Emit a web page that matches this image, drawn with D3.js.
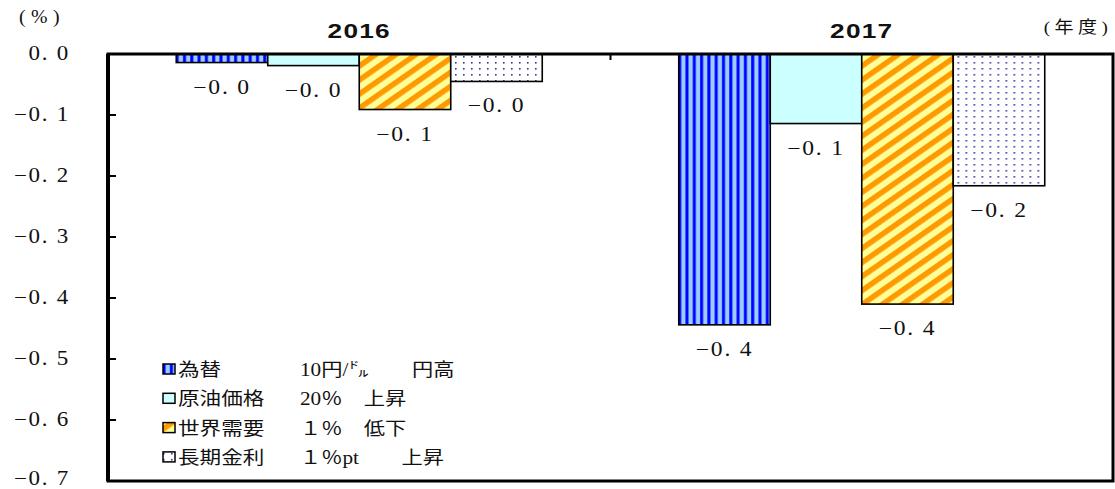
<!doctype html>
<html>
<head>
<meta charset="utf-8">
<script src="https://cdnjs.cloudflare.com/ajax/libs/d3/7.8.5/d3.min.js"></script>
<style>
    body{
        margin: 0;
        background-color: white;
    }
    text{
        fill: #111;
    }
</style>
</head>
<body>
<div id="container"></div>
<script>
    // data
    var years = ["2016", "2017"];
    var seriesNames = ["為替", "原油価格", "世界需要", "長期金利"];
    var seriesNotes = ["10円/㌦　　円高", "20％　上昇", "１％　低下", "１％pt　　上昇"];
    var fxValues = [-0.014, -0.444];
    var oilValues = [-0.019, -0.114];
    var demandValues = [-0.091, -0.410];
    var rateValues = [-0.045, -0.216];
    var yTicks = [0, -0.1, -0.2, -0.3, -0.4, -0.5, -0.6, -0.7];

    var seriesValues = [fxValues, oilValues, demandValues, rateValues];
    var fills = ["url(#pat0)", "#ccffff", "url(#pat2)", "url(#pat3)"];

    const width = 1115;
    const height = 489;
    const plotLeft = 108, plotRight = 1113, plotTop = 54, plotBottom = 481;

    var serif = "'Liberation Serif', 'DejaVu Serif', 'Noto Sans CJK JP', serif";
    var cjk = "'Liberation Serif', 'Noto Sans CJK JP', sans-serif";

    // the original picture is stretched sideways, so the texts are too
    function stretch(sel, sx){
        sel.each(function(){
            var t = d3.select(this);
            var x = +t.attr('x') || 0, y = +t.attr('y') || 0;
            t.attr('x', 0).attr('y', 0)
             .attr('transform', 'translate(' + x + ',' + y + ') scale(' + sx + ',1)');
        });
    }

    function fmt(v){
        var s = Math.abs(v).toFixed(1).replace('.', '. ');
        return (v < 0 ? '−' : '') + s;
    }

    var svg = d3.select('#container').append('svg')
        .attr('width', width)
        .attr('height', height);

    // patterns
    var defs = svg.append('defs');
    var p0 = defs.append('pattern').attr('id', 'pat0')
        .attr('patternUnits', 'userSpaceOnUse')
        .attr('width', 7.3).attr('height', 10);
    p0.append('rect').attr('width', 7.3).attr('height', 10).attr('fill', '#99ccff');
    p0.append('rect').attr('x', 2).attr('width', 3).attr('height', 10).attr('fill', '#0000ff');

    var p2 = defs.append('pattern').attr('id', 'pat2')
        .attr('patternUnits', 'userSpaceOnUse')
        .attr('width', 20).attr('height', 11.5)
        .attr('patternTransform', 'rotate(-35)');
    p2.append('rect').attr('width', 20).attr('height', 11.5).attr('fill', '#ffff99');
    p2.append('rect').attr('width', 20).attr('height', 5.5).attr('fill', '#ff9900');

    var p3 = defs.append('pattern').attr('id', 'pat3')
        .attr('patternUnits', 'userSpaceOnUse')
        .attr('width', 8).attr('height', 6);
    p3.append('rect').attr('width', 8).attr('height', 6).attr('fill', 'white');
    p3.append('rect').attr('x', 3).attr('y', 2).attr('width', 1.6).attr('height', 1.6).attr('fill', '#3333aa');

    // scales
    var x0 = d3.scaleBand()
        .domain(years)
        .range([plotLeft, plotRight]);

    var x1 = d3.scaleBand()
        .domain(d3.range(seriesNames.length))
        .range([0, x0.bandwidth()])
        .paddingInner(0)
        .paddingOuter(0.746);

    var y = d3.scaleLinear()
        .domain([-0.7, 0])
        .range([plotBottom, plotTop]);

    var data = years.map(function(yr, j){
        return {year: yr, values: seriesValues.map(function(arr, i){
            return {key: i, value: arr[j]};
        })};
    });

    // bars
    var groups = svg.append('g').selectAll('g')
        .data(data)
        .enter()
        .append('g')
        .attr('transform', d => 'translate(' + x0(d.year) + ',0)');

    groups.selectAll('rect')
        .data(d => d.values)
        .enter()
        .append('rect')
        .attr('x', d => x1(d.key))
        .attr('y', y(0))
        .attr('width', x1.bandwidth())
        .attr('height', d => y(d.value) - y(0))
        .attr('fill', d => fills[d.key])
        .attr('stroke', '#000')
        .attr('stroke-width', 1.6);

    groups.selectAll('text')
        .data(d => d.values)
        .enter()
        .append('text')
        .attr('x', d => x1(d.key) + x1.bandwidth() / 2)
        .attr('y', d => y(d.value) + 31)
        .attr('text-anchor', 'middle')
        .style('font-family', serif)
        .style('font-size', '20px')
        .style('letter-spacing', '1.5px')
        .text(d => fmt(d.value))
        .call(stretch, 1.18);

    // frame
    svg.append('rect')
        .attr('x', plotLeft)
        .attr('y', plotTop)
        .attr('width', plotRight - plotLeft)
        .attr('height', plotBottom - plotTop)
        .attr('fill', 'none')
        .attr('stroke', '#000')
        .attr('stroke-width', 3);

    svg.append('line')
        .attr('x1', plotLeft).attr('x2', plotLeft)
        .attr('y1', plotTop).attr('y2', plotBottom)
        .attr('stroke', '#000')
        .attr('stroke-width', 4);

    // y ticks
    svg.append('g').selectAll('line')
        .data(yTicks.slice(1, -1))
        .enter()
        .append('line')
        .attr('x1', plotLeft).attr('x2', plotLeft + 8)
        .attr('y1', d => y(d)).attr('y2', d => y(d))
        .attr('stroke', '#000')
        .attr('stroke-width', 2);

    svg.append('g').selectAll('text')
        .data(yTicks)
        .enter()
        .append('text')
        .attr('x', 70)
        .attr('y', d => Math.min(y(d) + 6, 485))
        .attr('text-anchor', 'end')
        .style('font-family', serif)
        .style('font-size', '20px')
        .style('letter-spacing', '1.5px')
        .text(d => fmt(d))
        .call(stretch, 1.15);

    // category tick between years
    svg.append('g').selectAll('line')
        .data(years.slice(1))
        .enter()
        .append('line')
        .attr('x1', d => x0(d)).attr('x2', d => x0(d))
        .attr('y1', plotTop).attr('y2', plotTop + 6)
        .attr('stroke', '#000')
        .attr('stroke-width', 2);

    // year titles
    svg.append('g').selectAll('text')
        .data(years)
        .enter()
        .append('text')
        .attr('x', d => x0(d) + x0.bandwidth() / 2)
        .attr('y', 38)
        .attr('text-anchor', 'middle')
        .style('font-family', "'Liberation Sans', Arial, sans-serif")
        .style('font-weight', 'bold')
        .style('font-size', '21px')
        .style('letter-spacing', '1px')
        .text(d => d)
        .call(stretch, 1.25);

    // unit labels
    svg.append('text')
        .attr('x', 42)
        .attr('y', 23)
        .attr('text-anchor', 'middle')
        .style('font-family', serif)
        .style('font-size', '18px')
        .style('letter-spacing', '5px')
        .text('(%)')
        .call(stretch, 1.1);

    svg.append('text')
        .attr('x', 1078)
        .attr('y', 33)
        .attr('text-anchor', 'middle')
        .style('font-family', cjk)
        .style('font-size', '17px')
        .style('letter-spacing', '4px')
        .text('(年度)')
        .call(stretch, 1.12);

    // legend
    var legend = svg.append('g').attr('class', 'legend');
    var rows = legend.selectAll('g')
        .data(seriesNames)
        .enter()
        .append('g')
        .attr('transform', (d, i) => 'translate(0,' + (369 + i * 29.3) + ')');

    rows.append('rect')
        .attr('x', 163)
        .attr('y', -5)
        .attr('width', 12)
        .attr('height', 10)
        .attr('fill', (d, i) => fills[i])
        .attr('stroke', '#000')
        .attr('stroke-width', 1.5);

    rows.append('text')
        .attr('x', 178)
        .attr('y', 7)
        .style('font-family', cjk)
        .style('font-size', '18px')
        .text(d => d)
        .call(stretch, 1.2);

    rows.append('text')
        .attr('x', 300)
        .attr('y', 7)
        .style('font-family', cjk)
        .style('font-size', '18px')
        .text((d, i) => seriesNotes[i])
        .call(stretch, 1.18);
</script>
</body>
</html>
